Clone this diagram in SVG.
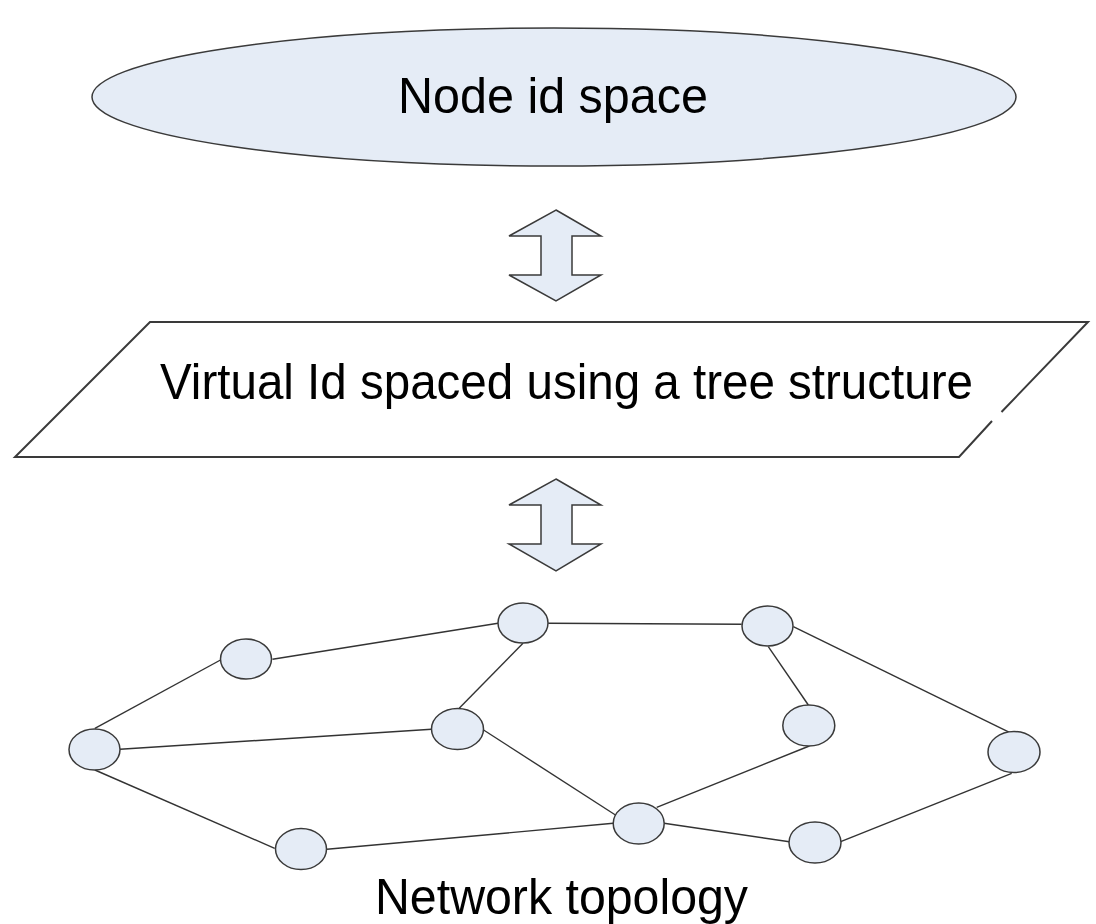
<svg xmlns="http://www.w3.org/2000/svg" width="1096" height="924" viewBox="0 0 1096 924">
<style>
.shape{fill:#e5ecf6;stroke:#3a3a3a;stroke-width:1.5}
.plain{fill:#ffffff;stroke:#3a3a3a;stroke-width:2}
.edge{stroke:#333333;stroke-width:1.4;fill:none}
.lbl{font-family:"Liberation Sans",Arial,sans-serif;fill:#000000;text-anchor:start;font-size:50px}
</style>
<rect width="1096" height="924" fill="#ffffff"/>
<g id="node-id-space">
<ellipse class="shape" cx="554" cy="97" rx="462" ry="69"/>
<text class="lbl" x="398" y="113" textLength="310" lengthAdjust="spacingAndGlyphs">Node id space</text>
</g>
<g id="arrow-1">
<path class="shape" d="M556,210 L601,236 L572,236 L572,275 L601,275 L556,301 L509,275 L541,275 L541,236 L509,236 Z"/>
</g>
<g id="virtual-id-space">
<path class="plain" d="M1001.5,412 L1088,322 L150,322 L15,457 L959,457 L992,421" fill="#ffffff"/>
<text class="lbl" x="160" y="399" textLength="813" lengthAdjust="spacingAndGlyphs">Virtual Id spaced using a tree structure</text>
</g>
<g id="arrow-2">
<path class="shape" d="M556,479 L601,505 L572,505 L572,544 L601,544 L556,571 L509,544 L541,544 L541,505 L509,505 Z"/>
</g>
<g id="connectors">
<line class="edge" x1="272.5" y1="659.3" x2="498" y2="623.3"/>
<line class="edge" x1="94.9" y1="728.3" x2="220.5" y2="660"/>
<line class="edge" x1="120" y1="749.3" x2="431.5" y2="729.3"/>
<line class="edge" x1="523" y1="643.3" x2="459.2" y2="708.3"/>
<line class="edge" x1="94.9" y1="770" x2="274.7" y2="848.3"/>
<line class="edge" x1="483.6" y1="730" x2="617" y2="816"/>
<line class="edge" x1="327" y1="849.3" x2="613.3" y2="823.3"/>
<line class="edge" x1="548.2" y1="623.3" x2="741.7" y2="624.3"/>
<line class="edge" x1="768.3" y1="646.7" x2="808.3" y2="705"/>
<line class="edge" x1="793.3" y1="626.7" x2="1010" y2="732.7"/>
<line class="edge" x1="809.3" y1="746" x2="656.7" y2="807.3"/>
<line class="edge" x1="664" y1="823.3" x2="789.3" y2="841.7"/>
<line class="edge" x1="840.7" y1="841.7" x2="1011.7" y2="773.3"/>
</g>
<g id="n-a"><ellipse class="shape" cx="523" cy="623" rx="25" ry="20"/></g>
<g id="n-b"><ellipse class="shape" cx="767.5" cy="626" rx="25.5" ry="20"/></g>
<g id="n-c"><ellipse class="shape" cx="246" cy="659" rx="25.5" ry="20"/></g>
<g id="n-d"><ellipse class="shape" cx="94.5" cy="749.5" rx="25.5" ry="20.5"/></g>
<g id="n-e"><ellipse class="shape" cx="457.5" cy="729" rx="26" ry="20.5"/></g>
<g id="n-f"><ellipse class="shape" cx="808.8" cy="725.5" rx="26" ry="20.5"/></g>
<g id="n-g"><ellipse class="shape" cx="1014" cy="752" rx="26" ry="20.5"/></g>
<g id="n-h"><ellipse class="shape" cx="301" cy="849" rx="25.5" ry="20.5"/></g>
<g id="n-i"><ellipse class="shape" cx="638.7" cy="823.5" rx="25.5" ry="20.5"/></g>
<g id="n-j"><ellipse class="shape" cx="815" cy="842.5" rx="26" ry="20.5"/></g>
<g id="caption">
<text class="lbl" x="375" y="914" textLength="373" lengthAdjust="spacingAndGlyphs">Network topology</text>
</g>
</svg>
